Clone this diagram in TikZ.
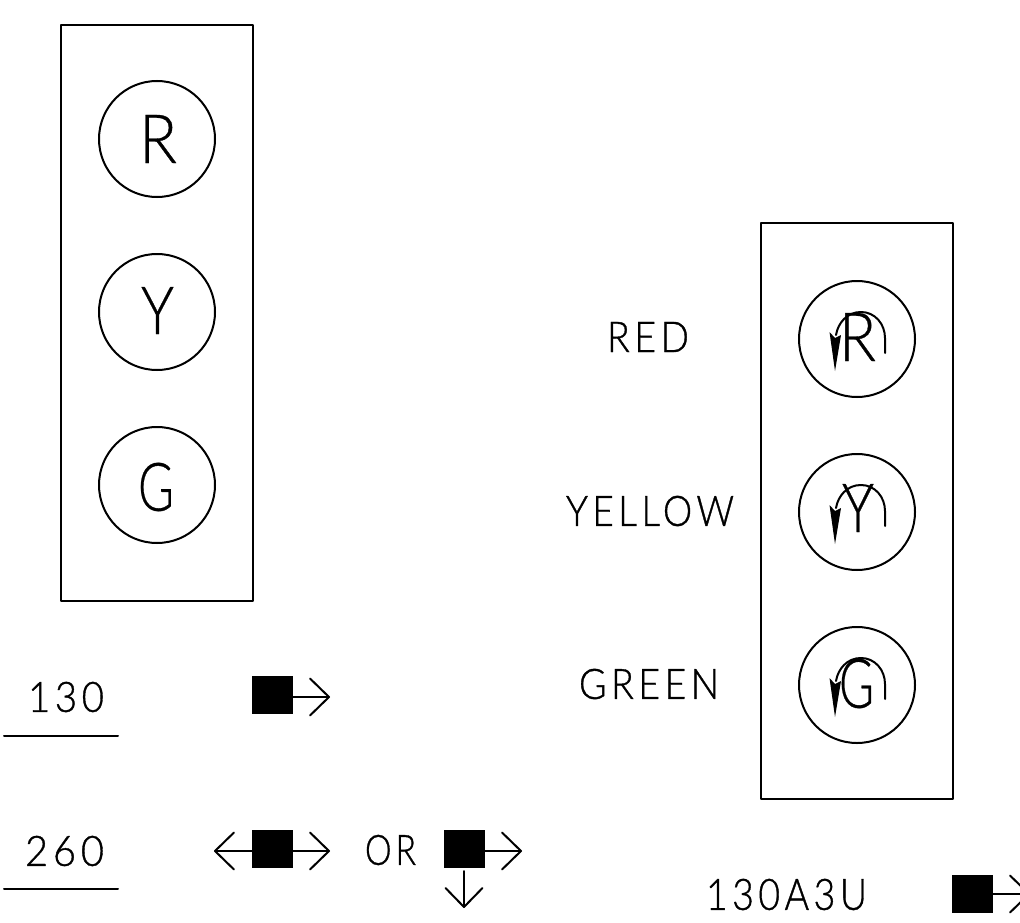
\documentclass[tikz,border=0pt]{standalone}
\usepackage{graphicx}
\usepackage{fontspec}
\usetikzlibrary{arrows.meta}
\newfontfamily\cadfont[FakeBold=0.5]{Lato Light}
\newfontfamily\cadwide[LetterSpace=12,FakeBold=0.9]{Lato Light}
% fitted text: x1 y1 x2 y2 of the ink, name, text
\newcommand{\fittext}[6]{%
  \node[cadtext] (#5) at ({(#1+#3)/2},{(#2+#4)/2}) {\resizebox{\dimexpr#3pt-#1pt\relax}{\dimexpr#4pt-#2pt\relax}{#6}};}
\tikzset{
  cadtext/.style={inner sep=0pt,outer sep=0pt,anchor=center},
  line/.style={line width=2pt,line cap=round,line join=round,black},
  housing/.style={line,draw,rectangle,minimum width=192pt,minimum height=576pt,inner sep=0pt,outer sep=0pt},
  lamp/.style={line,draw,circle,minimum size=116pt,inner sep=0pt,outer sep=0pt},
  block/.style={fill=black,draw=none,rectangle,minimum width=41pt,minimum height=38pt,inner sep=0pt,outer sep=0pt},
  barb/.style={line,-{Straight Barb[length=19pt,width=37pt,line width=2pt,round]}},
  tail/.style={line},
  pics/turn/.style={code={
    \draw[tail] (28,14) -- (28,-1) .. controls (28,-15) and (18,-27) .. (4,-27) .. controls (-10,-27) and (-19,-16) .. (-21,-4);
    \fill[black] (-27.5,-7) -- (-22,-1) -- (-16,-4) -- (-22,32) -- cycle;
  }}
}
\begin{document}
\begin{tikzpicture}[x=1pt,y=-1pt]
\useasboundingbox (0,0) rectangle (1020,923);
\clip (0,0) rectangle (1020,923);
% left signal
\node[housing] (boxL) at (157,313) {};
\node[lamp] (lr) at (157,139) {};
\node[lamp] (ly) at (157,312) {};
\node[lamp] (lg) at (157,485) {};
\fittext{139}{115}{177}{163}{tr}{\cadfont R}
\fittext{141}{287}{174}{334}{ty}{\cadfont Y}
\fittext{138}{463}{174}{511}{tg}{\cadfont G}
% right signal
\node[housing] (boxR) at (857,511) {};
\node[lamp] (rr) at (857,339) {};
\node[lamp] (ry) at (857,512) {};
\node[lamp] (rg) at (857,685) {};
\fittext{839}{313}{876}{361}{sr}{\cadfont R}
\fittext{842}{484}{874}{532}{sy}{\cadfont Y}
\fittext{839}{659}{874}{708}{sg}{\cadfont G}
\pic at (857,339) {turn};
\pic at (857,512) {turn};
\pic at (857,685) {turn};
% labels
\fittext{607}{322}{689}{352}{lblred}{\cadwide RED}
\fittext{566}{496}{734}{526}{lblyel}{\cadwide YELLOW}
\fittext{579}{669}{719}{699}{lblgrn}{\cadwide GREEN}
\fittext{28}{682}{104}{712}{n130}{\cadwide 130}
\fittext{25}{836}{104}{866}{n260}{\cadwide 260}
\fittext{365}{835}{416}{865}{lblor}{\cadwide OR}
\fittext{706}{879}{867}{910}{n130a}{\cadwide 130A3U}
% rules under numbers
\coordinate (u1a) at (4,736); \coordinate (u1b) at (118,736);
\coordinate (u2a) at (4,889); \coordinate (u2b) at (118,889);
\draw[line] (u1a) -- (u1b);
\draw[line] (u2a) -- (u2b);
% arrow symbols
\node[block] (b1) at (272.5,695) {};
\coordinate (b1r) at (330,697);
\draw[barb] (b1.east |- b1r) -- (b1r);
\node[block] (b2) at (272.5,849) {};
\coordinate (b2r) at (330,851); \coordinate (b2l) at (214,851);
\draw[barb] (b2.east |- b2r) -- (b2r);
\draw[barb] (b2.west |- b2l) -- (b2l);
\node[block] (b3) at (464.5,849) {};
\coordinate (b3r) at (522,851); \coordinate (b3d) at (464,908); \coordinate (b3t) at (464,871);
\draw[barb] (b3.east |- b3r) -- (b3r);
\draw[barb] (b3t) -- (b3d);
\node[block] (b4) at (972.5,894) {};
\coordinate (b4r) at (1030,894);
\draw[barb] (b4.east |- b4r) -- (b4r);
\end{tikzpicture}
\end{document}
